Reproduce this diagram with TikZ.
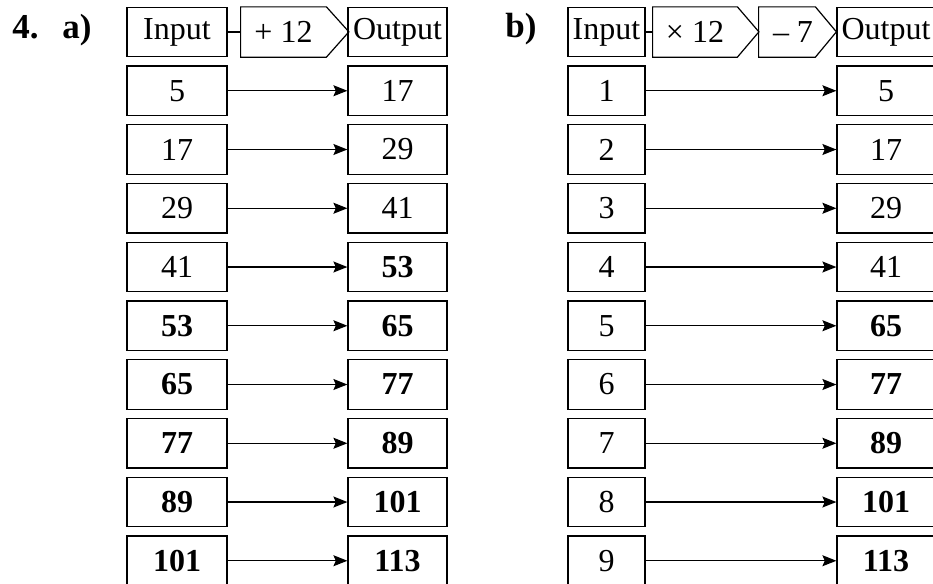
\documentclass[tikz,border=0pt]{standalone}
\usepackage{fontspec}
\setmainfont{Liberation Serif}
\usetikzlibrary{arrows.meta, positioning}

\begin{document}
\begin{tikzpicture}[
    x=0.5pt, y=-0.5pt,
    % styles des cases
    cell/.style   = {rectangle, draw, line width=0.6pt, minimum width=50pt,
                     minimum height=24.75pt, inner sep=0pt,
                     font=\fontsize{16}{18}\selectfont},
    celln/.style  = {cell, minimum width=38.5pt},
    opcell/.style = {rectangle, minimum height=24.75pt, inner sep=0pt,
                     font=\fontsize{16}{18}\selectfont},
    numlabel/.style = {anchor=base west, inner sep=0pt,
                     font=\fontsize{17.5}{20}\selectfont\bfseries},
    pent/.style   = {line width=0.6pt, line join=miter},
    arrow/.style  = {-{Stealth[length=7pt, width=5.5pt, inset=1.2pt]}, line width=0.65pt},
    link/.style   = {line width=0.9pt},
]
\useasboundingbox (0,0) rectangle (933,584);

% ── Titres ────────────────────────────────────────────────────────────────────
\node[numlabel] (num) at (12,38)  {4.};
\node[numlabel] (qa)  at (62,38)  {a)};
\node[numlabel] (qb)  at (505,37) {b)};

% ── a) : machine + 12 ─────────────────────────────────────────────────────────
\node[cell] (ahead) at (177,32) {Input};
\node[opcell, minimum width=42.5pt] (aop) at (283.5,32) {+ 12};
\draw[pent] (aop.north west) -- (aop.north east) -- ++(22.5,25)
    -- (aop.south east) -- (aop.south west) -- cycle;
\node[cell, minimum width=49.5pt] (aouthead) at (397.5,32) {Output};
\draw[link] (ahead) -- (aop.west);

\foreach \i/\o [count=\k] in {5/17, 17/29, 29/41, 41/\textbf{53},
    \textbf{53}/\textbf{65}, \textbf{65}/\textbf{77}, \textbf{77}/\textbf{89},
    \textbf{89}/\textbf{101}, \textbf{101}/\textbf{113}}
{
    \node[cell] (ain\k) at (177,{32+58.75*\k}) {\i};
    \node[cell, minimum width=49.5pt] (aout\k) at (397.5,{32+58.75*\k}) {\o};
    \draw[arrow] (ain\k) -- (aout\k);
}

% ── b) : machine × 12 puis − 7 ────────────────────────────────────────────────
\node[celln] (bhead) at (606.5,32) {Input};
\node[opcell, minimum width=42pt] (bop1) at (695,32) {× 12};
\draw[pent] (bop1.north west) -- (bop1.north east) -- ++(21.5,25)
    -- (bop1.south east) -- (bop1.south west) -- cycle;
\node[opcell, minimum width=28pt] (bop2) at (787,32) {\hspace{6pt}– 7};
\draw[pent] (bop2.north west) -- (bop2.north east) -- ++(21,25)
    -- (bop2.south east) -- (bop2.south west) -- cycle;
\node[cell, minimum width=49pt] (bouthead) at (886,32) {Output};
\draw[link] (bhead) -- (bop1.west);

\foreach \i/\o [count=\k] in {1/5, 2/17, 3/29, 4/41, 5/\textbf{65},
    6/\textbf{77}, 7/\textbf{89}, 8/\textbf{101}, 9/\textbf{113}}
{
    \node[celln] (bin\k) at (606.5,{32+58.75*\k}) {\i};
    \node[cell, minimum width=49pt] (bout\k) at (886,{32+58.75*\k}) {\o};
    \draw[arrow] (bin\k) -- (bout\k);
}

\end{tikzpicture}
\end{document}
